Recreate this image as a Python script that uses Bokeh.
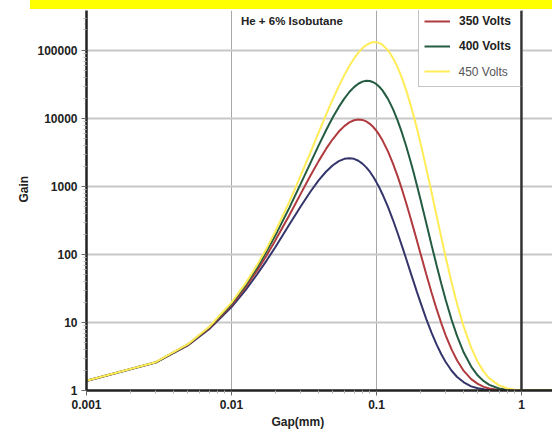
from bokeh.plotting import figure
from bokeh.models import (FixedTicker, CustomJSTickFormatter, Legend, LegendItem, Label, Span,
                          Div, Title, BoxAnnotation)
from bokeh.layouts import column
from bokeh.embed import file_html
from bokeh.resources import INLINE

FONT = "Liberation Sans"

x_ticks = [0.001, 0.01, 0.1, 1]
x_tick_labels = ["0.001", "0.01", "0.1", "1"]
y_ticks = [1, 10, 100, 1000, 10000, 100000]
y_tick_labels = ["1", "10", "100", "1000", "10000", "100000"]

series_names = ["300 Volts", "350 Volts", "400 Volts", "450 Volts"]
series_colors = ["#34356b", "#b03a3e", "#245c42", "#ffec57"]

gap_mm = [0.001, 0.003, 0.005, 0.007,
          0.01, 0.0125, 0.015, 0.0175, 0.02,
          0.025, 0.03, 0.035, 0.04, 0.045, 0.05, 0.055, 0.06, 0.065, 0.07, 0.075,
          0.08, 0.085, 0.09, 0.095, 0.1, 0.105, 0.11,
          0.12, 0.13, 0.14, 0.15, 0.16, 0.17, 0.18, 0.19, 0.2,
          0.22, 0.24, 0.26, 0.28, 0.3,
          0.33, 0.36, 0.4, 0.45, 0.5, 0.55, 0.6,
          0.7, 0.8, 0.9, 1.0, 1.2, 1.64]

gain_300 = [1.38, 2.57, 4.61, 7.95,
            16.9, 30.0, 50.8, 82.1, 127,
            273, 508, 837, 1240, 1660, 2050, 2360, 2550, 2610, 2550, 2390,
            2170, 1910, 1650, 1390, 1150, 947, 770,
            500, 321, 205, 133, 87.3, 58.5, 40.2, 28.2, 20.4,
            11.4, 7.03, 4.72, 3.41, 2.63,
            1.95, 1.58, 1.32, 1.15, 1.08, 1.04, 1.02,
            1.005, 1.0, 1.0, 1.0, 1.0, 1.0]

gain_350 = [1.39, 2.59, 4.69, 8.21,
            18.0, 33.0, 57.9, 97.7, 159,
            375, 778, 1435, 2380, 3600, 4990, 6420, 7720, 8750, 9410, 9660,
            9520, 9050, 8340, 7490, 6560, 5640, 4770,
            3280, 2170, 1410, 902, 578, 372, 242, 160, 108,
            52.1, 27.4, 15.7, 9.73, 6.49,
            3.99, 2.76, 1.94, 1.47, 1.25, 1.13, 1.07,
            1.02, 1.007, 1.0, 1.0, 1.0, 1.0]

gain_400 = [1.39, 2.60, 4.75, 8.42,
            18.9, 35.5, 64.1, 112, 188,
            481, 1090, 2210, 4050, 6770, 10400, 14800, 19600, 24500, 28900, 32400,
            34800, 35800, 35500, 34100, 31900, 29000, 25900,
            19400, 13700, 9310, 6130, 3970, 2540, 1630, 1046, 678,
            296, 137, 68.8, 37.2, 21.6,
            10.9, 6.30, 3.62, 2.25, 1.66, 1.37, 1.21,
            1.07, 1.025, 1.01, 1.0, 1.0, 1.0]

gain_450 = [1.39, 2.61, 4.79, 8.58,
            19.6, 37.6, 69.6, 124, 215,
            590, 1440, 3150, 6280, 11450, 19200, 29900, 43400, 59200, 76100, 92900,
            108000, 120200, 128500, 132600, 132300, 128200, 121000,
            100700, 77600, 56400, 39100, 26300, 17250, 11170, 7160, 4580,
            1895, 814, 369, 178, 91.8,
            38.5, 18.6, 8.61, 4.26, 2.62, 1.88, 1.51,
            1.19, 1.07, 1.03, 1.01, 1.0, 1.0]

gains = [gain_300, gain_350, gain_400, gain_450]

p = figure(width=552, height=422, x_axis_type="log", y_axis_type="log",
           x_range=(0.001, 1.637), y_range=(1, 387000),
           output_backend="svg", toolbar_location=None,
           min_border_left=86, min_border_right=0, min_border_top=1, min_border_bottom=41)
p.outline_line_color = None
p.background_fill_color = "white"
p.border_fill_color = "white"

xt = FixedTicker(ticks=x_ticks, minor_ticks=[m * 10.0 ** e for e in range(-3, 1) for m in range(2, 10)])
yt = FixedTicker(ticks=y_ticks, minor_ticks=[m * 10.0 ** e for e in range(0, 6) for m in range(2, 10)])
p.xaxis.ticker = xt
p.yaxis.ticker = yt
p.xgrid.ticker = FixedTicker(ticks=x_ticks)
p.ygrid.ticker = FixedTicker(ticks=y_ticks)
fmt = "return String(tick);"
p.xaxis.formatter = CustomJSTickFormatter(code=fmt)
p.yaxis.formatter = CustomJSTickFormatter(code=fmt)
p.xaxis.major_label_overrides = dict(zip(x_ticks, x_tick_labels))
p.yaxis.major_label_overrides = dict(zip(y_ticks, y_tick_labels))

for ax in (p.xaxis, p.yaxis):
    ax.axis_line_color = "#222222"
    ax.axis_line_width = 2.5
    ax.major_tick_line_color = "#666666"
    ax.major_tick_out = 5
    ax.major_tick_in = 0
    ax.minor_tick_line_color = "#b0b0b0"
    ax.minor_tick_out = 3
    ax.minor_tick_in = 0
    ax.major_label_text_font = FONT
    ax.major_label_text_font_style = "bold"
    ax.major_label_text_font_size = "12px"
    ax.major_label_text_color = "#222222"
    ax.major_label_standoff = 4

p.xgrid.grid_line_color = "#a8a8a8"
p.xgrid.grid_line_width = 1
p.ygrid.grid_line_color = "#c8c8c8"
p.ygrid.grid_line_width = 2

renderers = []
for gy, c in zip(gains, series_colors):
    r = p.line(gap_mm, gy, line_color=c, line_width=2)
    renderers.append(r)

# opaque white panel behind the (transparent) legend box
p.add_layout(BoxAnnotation(left=0.195, right=1.0, bottom=28600, top=None,
                           fill_color="white", fill_alpha=1, line_color=None))

p.add_layout(Span(location=1, dimension="height", line_color="#333333", line_width=2.5))

legend = Legend(items=[LegendItem(label=series_names[1], renderers=[renderers[1]]),
                       LegendItem(label=series_names[2], renderers=[renderers[2]]),
                       LegendItem(label=" ", renderers=[renderers[3]])],
                location=(332, 303), orientation="vertical", padding=5, spacing=5, margin=0,
                glyph_width=26, glyph_height=20, label_height=20, label_width=58,
                label_standoff=9, label_text_font=FONT, label_text_font_size="12px",
                label_text_font_style="bold", label_text_color="#222222",
                border_line_color="#8a8a8a", border_line_width=1.5,
                background_fill_alpha=0)
p.add_layout(legend)

p.add_layout(Label(x=0.3677, y=47500, text=series_names[3], text_font=FONT,
                   text_font_size="12px", text_color="#555555", level="overlay",
                   text_baseline="middle", text_align="left"))

p.add_layout(Label(x=0.0261, y=270000, text="He + 6% Isobutane", text_font=FONT,
                   text_font_style="bold", text_font_size="11.5px", text_color="#222222",
                   text_baseline="middle", text_align="center"))

p.add_layout(Title(text="Gap(mm)", align="left", offset=185, standoff=2,
                   text_font=FONT, text_font_style="bold", text_font_size="12px",
                   text_color="#222222"), "below")
p.add_layout(Title(text="Gain", align="left", offset=188, standoff=8,
                   text_font=FONT, text_font_style="bold", text_font_size="12px",
                   text_color="#222222"), "left")

band = Div(text="", width=522, height=9, margin=(0, 0, 0, 30),
           styles={"background-color": "#ffff00"})

layout = column(band, p, spacing=0)

open("out.html", "w").write(file_html(layout, INLINE))
